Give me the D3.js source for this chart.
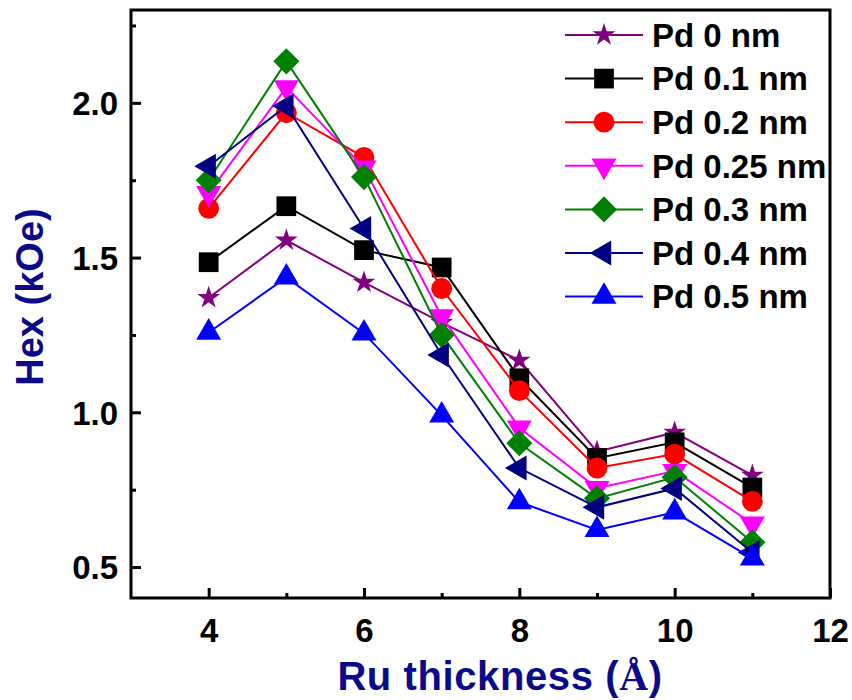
<!DOCTYPE html>
<html>
<head>
<meta charset="utf-8">
<script src="https://cdn.jsdelivr.net/npm/d3@7"></script>
<style>
  html, body { margin: 0; padding: 0; background: #fff; }
  svg { display: block; }
  text { font-family: "Liberation Sans", Arial, sans-serif; font-weight: bold; }
</style>
</head>
<body>
<svg id="chart" width="852" height="700"></svg>
<script>
// Ru spacer thickness (Å)
const ruThickness = [4, 5, 6, 7, 8, 9, 10, 11];

// Exchange bias field Hex (kOe) for each Pd insertion thickness
const pd0   = [1.37, 1.556, 1.42, 1.29, 1.168, 0.873, 0.935, 0.796];
const pd01  = [1.485, 1.666, 1.524, 1.468, 1.11, 0.852, 0.903, 0.757];
const pd02  = [1.659, 1.968, 1.824, 1.40, 1.07, 0.82, 0.865, 0.712];
const pd025 = [1.708, 2.05, 1.79, 1.31, 0.95, 0.755, 0.81, 0.64];
const pd03  = [1.75, 2.134, 1.76, 1.25, 0.90, 0.722, 0.79, 0.58];
const pd04  = [1.795, 1.99, 1.594, 1.185, 0.82, 0.693, 0.754, 0.547];
const pd05  = [1.258, 1.436, 1.255, 0.99, 0.71, 0.62, 0.677, 0.528];

const seriesLabels = ["Pd 0 nm", "Pd 0.1 nm", "Pd 0.2 nm", "Pd 0.25 nm", "Pd 0.3 nm", "Pd 0.4 nm", "Pd 0.5 nm"];
const seriesValues = [pd0, pd01, pd02, pd025, pd03, pd04, pd05];
const seriesColors = ["#800080", "#000000", "#ff0000", "#ff00ff", "#008000", "#000080", "#0000ff"];
const seriesMarkers = ["star", "square", "circle", "triangleDown", "diamond", "triangleLeft", "triangleUp"];

const xTicks = [4, 6, 8, 10, 12];
const yTicks = [0.5, 1.0, 1.5, 2.0];

const margin = { left: 131, right: 22, top: 10, bottom: 102 };
const width = 852, height = 700;

const svg = d3.select("#chart");

const x = d3.scaleLinear().domain([3, 12]).range([margin.left, width - margin.right]);
const y = d3.scaleLinear().domain([0.4, 2.3]).range([height - margin.bottom, margin.top]);

// marker shapes
function markerPath(kind) {
  switch (kind) {
    case "star": return { d: d3.symbol(d3.symbolStar, 160)(), rot: 0 };
    case "square": return { d: d3.symbol(d3.symbolSquare, 390)(), rot: 0 };
    case "circle": return { d: d3.symbol(d3.symbolCircle, 340)(), rot: 0 };
    case "diamond": return { d: d3.symbol(d3.symbolSquare, 340)(), rot: 45 };
    case "triangleUp": return { d: d3.symbol(d3.symbolTriangle, 270)(), rot: 0 };
    case "triangleDown": return { d: d3.symbol(d3.symbolTriangle, 270)(), rot: 180 };
    case "triangleLeft": return { d: d3.symbol(d3.symbolTriangle, 270)(), rot: -90 };
  }
}

// series lines and markers
const line = d3.line().x((d, i) => x(ruThickness[i])).y(d => y(d));

seriesValues.forEach((vals, si) => {
  const g = svg.append("g").attr("class", "series");
  g.append("path")
    .attr("d", line(vals))
    .attr("fill", "none")
    .attr("stroke", seriesColors[si])
    .attr("stroke-width", 2);
  const m = markerPath(seriesMarkers[si]);
  g.selectAll("path.mk")
    .data(vals)
    .join("path")
    .attr("class", "mk")
    .attr("d", m.d)
    .attr("transform", (d, i) => `translate(${x(ruThickness[i])},${y(d)}) rotate(${m.rot})`)
    .attr("fill", seriesColors[si]);
});

// axes (ticks inward)
const xAxis = d3.axisBottom(x)
  .tickValues(d3.range(4, 12.01, 1))
  .tickSizeInner(-10).tickSizeOuter(0)
  .tickFormat(d => xTicks.includes(d) ? d3.format("d")(d) : "");
const gx = svg.append("g").attr("transform", `translate(0,${height - margin.bottom})`).call(xAxis);
gx.selectAll(".tick line").attr("y2", d => xTicks.includes(d) ? -10 : -5);

const yAxis = d3.axisLeft(y)
  .tickValues(d3.range(0.5, 2.26, 0.25))
  .tickSizeInner(-10).tickSizeOuter(0)
  .tickFormat(d => yTicks.some(t => Math.abs(t - d) < 1e-9) ? d3.format(".1f")(d) : "");
const gy = svg.append("g").attr("transform", `translate(${margin.left},0)`).call(yAxis);
gy.selectAll(".tick line").attr("x2", d => yTicks.some(t => Math.abs(t - d) < 1e-9) ? 10 : 5);

[gx, gy].forEach(g => {
  g.select(".domain").remove();
  g.selectAll(".tick line").attr("stroke", "#000").attr("stroke-width", 3);
  g.selectAll(".tick text")
    .attr("fill", "#000")
    .attr("font-size", 33)
    .attr("font-family", "Liberation Sans, Arial, sans-serif")
    .attr("font-weight", "bold");
});
gx.selectAll(".tick text").attr("dy", null).attr("y", 44);
gy.selectAll(".tick text").attr("x", -13).attr("dy", "0.36em");

// frame
svg.append("rect")
  .attr("x", margin.left).attr("y", margin.top)
  .attr("width", width - margin.left - margin.right)
  .attr("height", height - margin.bottom - margin.top)
  .attr("fill", "none").attr("stroke", "#000").attr("stroke-width", 3);

// axis titles
const xt = svg.append("text")
  .attr("x", 500)
  .attr("y", 690)
  .attr("text-anchor", "middle")
  .attr("font-size", 40)
  .attr("letter-spacing", 0.6)
  .attr("fill", "#0a0a8a");
xt.append("tspan").text("Ru thickness (");
xt.append("tspan").attr("font-family", "Liberation Serif, Times New Roman, serif").text("Å");
xt.append("tspan").text(")");

svg.append("text")
  .attr("transform", "translate(43,297) rotate(-90)")
  .attr("text-anchor", "middle")
  .attr("font-size", 38)
  .attr("fill", "#0a0a8a")
  .text("Hex (kOe)");

// legend
const legend = svg.append("g").attr("transform", "translate(565,35)");
seriesLabels.forEach((lab, si) => {
  const row = legend.append("g").attr("transform", `translate(0,${si * 43.6})`);
  row.append("line").attr("x1", 0).attr("x2", 78).attr("y1", 0).attr("y2", 0)
    .attr("stroke", seriesColors[si]).attr("stroke-width", 2);
  const m = markerPath(seriesMarkers[si]);
  row.append("path").attr("d", m.d)
    .attr("transform", `translate(39,0) rotate(${m.rot})`)
    .attr("fill", seriesColors[si]);
  row.append("text").attr("x", 87).attr("dy", "0.36em")
    .attr("font-size", 33).attr("fill", "#000").text(lab);
});
</script>
</body>
</html>
